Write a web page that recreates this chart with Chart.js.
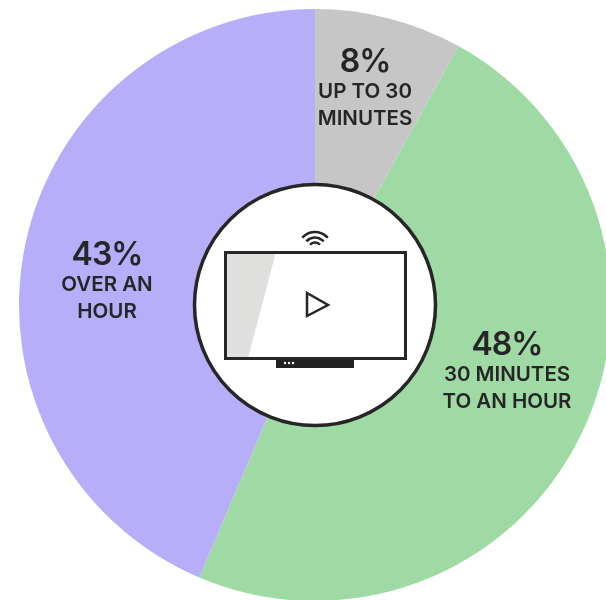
<!DOCTYPE html>
<html>
<head>
<meta charset="utf-8">
<title>Pie</title>
<script src="https://cdn.jsdelivr.net/npm/chart.js@4"></script>
<style>
  html, body { margin: 0; padding: 0; background: #fff; overflow: hidden; width: 606px; height: 600px; }
  canvas { position: absolute; left: 0; top: 0; }
</style>
</head>
<body>
<canvas id="pie" width="630" height="610"></canvas>
<script>
const categories = ['UP TO 30 MINUTES', '30 MINUTES TO AN HOUR', 'OVER AN HOUR'];
const percents = [8, 48, 43.3]; // slice angles, printed rounded
const slice_colors = ['#c6c6c6', '#9fdaa5', '#b6aef8'];
const label_lines = [['UP TO 30', 'MINUTES'], ['30 MINUTES', 'TO AN HOUR'], ['OVER AN', 'HOUR']];
const label_centers = [[365, 62], [507, 345], [107, 255]]; // x, y of the big number

const ink = '#262626';
const font_family = 'Inter, sans-serif';

// white hub with the tv icon, drawn around the pie centre
function drawIcon(ctx, cx, cy) {
  ctx.save();
  ctx.lineCap = 'butt';
  ctx.lineJoin = 'miter';

  ctx.beginPath();
  ctx.arc(cx, cy, 120.5, 0, Math.PI * 2);
  ctx.fillStyle = '#fff';
  ctx.fill();
  ctx.lineWidth = 3.5;
  ctx.strokeStyle = ink;
  ctx.stroke();

  // screen glare
  ctx.beginPath();
  ctx.moveTo(cx - 89, cy - 53);
  ctx.lineTo(cx - 39, cy - 53);
  ctx.lineTo(cx - 67, cy + 53);
  ctx.lineTo(cx - 89, cy + 53);
  ctx.closePath();
  ctx.fillStyle = '#dfe0de';
  ctx.fill();

  // screen
  ctx.lineWidth = 3;
  ctx.strokeRect(cx - 89.5, cy - 52.5, 180, 106);

  // soundbar
  ctx.fillStyle = '#222';
  ctx.fillRect(cx - 39, cy + 54, 78, 9);
  ctx.fillStyle = '#fff';
  [-30, -26, -22].forEach(dx => {
    ctx.beginPath();
    ctx.arc(cx + dx, cy + 58, 1.2, 0, Math.PI * 2);
    ctx.fill();
  });

  // play button
  ctx.beginPath();
  ctx.moveTo(cx - 8, cy - 12);
  ctx.lineTo(cx + 13, cy);
  ctx.lineTo(cx - 8, cy + 11);
  ctx.closePath();
  ctx.lineWidth = 2.5;
  ctx.stroke();

  // wifi
  ctx.lineWidth = 2.5;
  [17, 11.5, 6.5].forEach(r => {
    ctx.beginPath();
    ctx.arc(cx, cy - 56, r, -Math.PI / 2 - 0.85, -Math.PI / 2 + 0.85);
    ctx.stroke();
  });
  ctx.restore();
}

function drawLabels(ctx) {
  ctx.save();
  ctx.fillStyle = ink;
  ctx.textAlign = 'center';
  ctx.textBaseline = 'middle';
  percents.forEach((p, i) => {
    const [x, y] = label_centers[i];
    ctx.font = '600 32px ' + font_family;
    ctx.letterSpacing = '-1px';
    ctx.fillText(Math.round(p) + '%', x, y);
    ctx.font = '600 20.5px ' + font_family;
    ctx.letterSpacing = '0px';
    label_lines[i].forEach((line, j) => ctx.fillText(line, x, y + 30 + j * 27));
  });
  ctx.restore();
}

const hubPlugin = {
  id: 'hub',
  afterDatasetsDraw(chart) {
    const arc = chart.getDatasetMeta(0).data[0];
    drawIcon(chart.ctx, arc.x, arc.y);
    drawLabels(chart.ctx);
  }
};

new Chart(document.getElementById('pie').getContext('2d'), {
  type: 'pie',
  data: {
    labels: categories,
    datasets: [{
      data: percents,
      backgroundColor: slice_colors,
      borderWidth: 0,
      radius: 296
    }]
  },
  options: {
    responsive: false,
    animation: false,
    plugins: { legend: { display: false }, tooltip: { enabled: false } }
  },
  plugins: [hubPlugin]
});
</script>
</body>
</html>
